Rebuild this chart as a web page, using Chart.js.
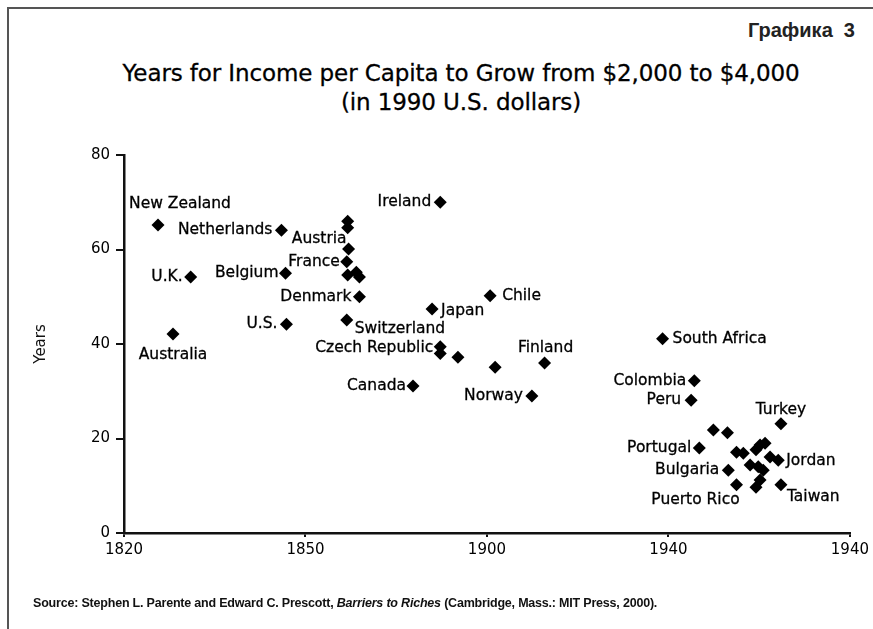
<!DOCTYPE html>
<html>
<head>
<meta charset="utf-8">
<script src="https://cdn.jsdelivr.net/npm/chart.js@4"></script>
<style>
  html, body { margin: 0; padding: 0; background: #fff; }
  #wrap { position: relative; width: 873px; height: 629px; overflow: hidden; }
  #frame { position: absolute; left: 7px; top: 7px; width: 880px; height: 640px;
           border-left: 2px solid #555; border-top: 2px solid #555; }
  #grafika { position: absolute; right: 18px; top: 19px; font: bold 20px "Liberation Sans", Arial, sans-serif; color: #222; }
  #title { position: absolute; left: 0; width: 922px; top: 59px; text-align: center;
           font: 23px "DejaVu Sans", sans-serif; color: #000; line-height: 29px; letter-spacing: -0.1px;
           -webkit-text-stroke: 0.3px #000; }
  #source { position: absolute; left: 33px; top: 596px; font: bold 12.5px "Liberation Sans", Arial, sans-serif;
            color: #111; letter-spacing: -0.2px; }
  canvas { position: absolute; left: 0; top: 0; }
</style>
</head>
<body>
<div id="wrap">
  <div id="frame"></div>
  <div id="grafika">Графика&nbsp; 3</div>
  <div id="title">Years for Income per Capita to Grow from $2,000 to $4,000<br>(in 1990 U.S. dollars)</div>
  <canvas id="chart" width="873" height="629"></canvas>
  <div id="source">Source: Stephen L. Parente and Edward C. Prescott, <i>Barriers to Riches</i> (Cambridge, Mass.: MIT Press, 2000).</div>
</div>
<script>
// Данные: страна, год начала, число лет
const countries = [
  'New Zealand', 'Netherlands', 'U.K.', 'Belgium', 'Australia', 'U.S.',
  '', '', 'Austria', 'France', '', '', '', 'Denmark', 'Switzerland',
  'Czech Republic', '', '', '', 'Ireland', 'Chile', 'Japan', 'Finland', 'Canada', 'Norway',
  'South Africa', 'Colombia', 'Peru', 'Turkey', 'Portugal', 'Bulgaria', 'Puerto Rico', 'Taiwan', 'Jordan',
  '', '', '', '', '', '', '', '', '', '', '', '', ''
];
const startYears = [
  1827.5, 1854.7, 1834.7, 1855.6, 1830.8, 1855.8,
  1869.3, 1869.3, 1869.5, 1869.1, 1869.3, 1871.2, 1871.9, 1871.9, 1869.1,
  1889.7, 1889.7, 1893.6, 1901.8, 1889.7, 1900.7, 1887.9, 1912.7, 1883.7, 1909.9,
  1938.7, 1945.7, 1945.0, 1964.8, 1946.8, 1953.2, 1955.0, 1964.8, 1964.2,
  1949.9, 1953.0, 1955.0, 1956.5, 1960.2, 1961.3, 1959.3, 1962.4, 1958.0, 1959.8, 1960.9, 1959.3, 1960.2
];
const yearsToDouble = [
  65.2, 64.1, 54.2, 55.0, 42.1, 44.2,
  66.0, 64.6, 60.1, 57.4, 54.6, 55.2, 54.2, 50.0, 45.1,
  39.4, 38.0, 37.2, 35.1, 70.0, 50.2, 47.4, 36.0, 31.1, 29.0,
  41.1, 32.2, 28.1, 23.1, 18.0, 13.3, 10.2, 10.2, 15.4,
  21.8, 21.2, 17.1, 16.9, 18.6, 19.0, 17.6, 16.1, 14.4, 14.0, 13.3, 9.7, 11.2
];
const xTickLabels = ['1820', '1850', '1900', '1940', '1940'];
const yTickValues = [0, 20, 40, 60, 80];

// смещения подписей относительно точки: [dx, dy, выравнивание]
const labelOffsets = {
  'New Zealand': [22, -21, 'center'],
  'Netherlands': [-9, 0, 'right'],
  'U.K.': [-8, 0, 'right'],
  'Belgium': [-7, 0, 'right'],
  'Australia': [0, 21, 'center'],
  'U.S.': [-9, 0, 'right'],
  'Austria': [-2, -10, 'right'],
  'France': [-7, 0, 'right'],
  'Denmark': [-8, 0, 'right'],
  'Switzerland': [8, 9, 'left'],
  'Czech Republic': [-7, 1, 'right'],
  'Ireland': [-9, 0, 'right'],
  'Chile': [12, 0, 'left'],
  'Japan': [9, 2, 'left'],
  'Finland': [1, -15, 'center'],
  'Canada': [-7, 0, 'right'],
  'Norway': [-9, 0, 'right'],
  'South Africa': [10, 0, 'left'],
  'Colombia': [-8, 0, 'right'],
  'Peru': [-10, 0, 'right'],
  'Turkey': [0, -14, 'center'],
  'Portugal': [-8, 0, 'right'],
  'Bulgaria': [-9, 0, 'right'],
  'Puerto Rico': [-41, 15, 'center'],
  'Taiwan': [6, 12, 'left'],
  'Jordan': [8, 1, 'left']
};

const pointLabels = {
  id: 'pointLabels',
  afterDatasetsDraw(chart) {
    const ctx = chart.ctx;
    const meta = chart.getDatasetMeta(0);
    ctx.save();
    ctx.font = '15.5px "DejaVu Sans", sans-serif';
    ctx.fillStyle = '#000';
    ctx.strokeStyle = '#000';
    ctx.lineWidth = 0.3;
    ctx.textBaseline = 'middle';
    meta.data.forEach(function(pt, i) {
      const name = countries[i];
      if (!name) return;
      const off = labelOffsets[name] || [8, 0, 'left'];
      ctx.textAlign = off[2];
      ctx.fillText(name, pt.x + off[0], pt.y + off[1]);
      ctx.strokeText(name, pt.x + off[0], pt.y + off[1]);
    });
    ctx.restore();
  }
};

const points = startYears.map((x, i) => ({ x: x, y: yearsToDouble[i] }));

new Chart(document.getElementById('chart').getContext('2d'), {
  type: 'scatter',
  data: {
    datasets: [{
      label: 'Years',
      data: points,
      pointStyle: 'rectRot',
      pointRadius: 6.5,
      pointHoverRadius: 6.5,
      backgroundColor: '#000',
      borderColor: '#000',
      borderWidth: 0
    }]
  },
  options: {
    responsive: false,
    animation: false,
    layout: { padding: { top: 155, right: 22, left: 0, bottom: 0 } },
    plugins: { legend: { display: false }, tooltip: { enabled: false } },
    scales: {
      x: {
        type: 'linear',
        min: 1820, max: 1980,
        afterFit: function(s) { s.height = 96; },
        afterBuildTicks: function(s) { s.ticks = xTickLabels.map((t, i) => ({ value: 1820 + i * 40 })); },
        ticks: {
          callback: function(v, i) { return xTickLabels[i]; },
          font: { family: 'DejaVu Sans', size: 15 },
          color: '#000',
          padding: 4,
          maxRotation: 0
        },
        grid: { drawOnChartArea: false, drawTicks: true, tickLength: 4, color: '#111', lineWidth: 2 },
        border: { display: true, color: '#111', width: 2.5 }
      },
      y: {
        min: 0, max: 80,
        afterFit: function(s) { s.width = 124; },
        afterBuildTicks: function(s) { s.ticks = yTickValues.map(v => ({ value: v })); },
        ticks: {
          font: { family: 'DejaVu Sans', size: 15 },
          color: '#000',
          padding: 6
        },
        title: {
          display: true,
          text: 'Years',
          font: { family: 'DejaVu Sans', size: 15 },
          color: '#111',
          padding: { top: 32, bottom: 0 }
        },
        grid: { drawOnChartArea: false, drawTicks: true, tickLength: 8, color: '#111', lineWidth: 2 },
        border: { display: true, color: '#111', width: 2.5 }
      }
    }
  },
  plugins: [pointLabels]
});
</script>
</body>
</html>
